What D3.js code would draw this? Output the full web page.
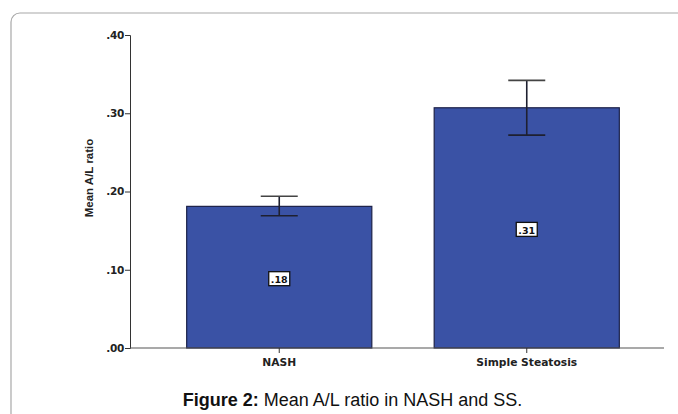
<!DOCTYPE html>
<html>
<head>
<meta charset="utf-8">
<script src="https://cdn.jsdelivr.net/npm/d3@7"></script>
<style>
  body { margin: 0; background: #fff; }
  svg { display: block; }
</style>
</head>
<body>
<svg id="chart" width="678" height="414"></svg>
<script>
const categories = ["NASH", "Simple Steatosis"];
const means = [0.181, 0.307];
const errLow = [0.169, 0.272];
const errHigh = [0.194, 0.342];
const valueLabels = [".18", ".31"];
const yTicks = [0, 0.1, 0.2, 0.3, 0.4];
const yTickLabels = [".00", ".10", ".20", ".30", ".40"];

const svg = d3.select("#chart");
const narrow = "'Liberation Sans Narrow', 'Arial Narrow', 'Liberation Sans', Arial, sans-serif";
const wide = "'DejaVu Sans', Verdana, sans-serif";

// panel frame (runs off right / bottom edge)
svg.append("rect")
  .attr("x", 11).attr("y", 13)
  .attr("width", 720).attr("height", 460)
  .attr("rx", 9)
  .attr("fill", "none")
  .attr("stroke", "#a8a8a8")
  .attr("stroke-width", 1.2);

const x0 = 130, y0 = 348;
const y = d3.scaleLinear().domain([0, 0.4]).range([y0, 35]);
const x = d3.scaleBand()
  .domain(categories)
  .range([x0, 676])
  .paddingInner(0.252)
  .paddingOuter(0.229);

// y axis
const yAxis = d3.axisLeft(y)
  .tickValues(yTicks)
  .tickFormat((d, i) => yTickLabels[i])
  .tickSize(5)
  .tickPadding(1);
const gy = svg.append("g").attr("transform", `translate(${x0},0)`).call(yAxis);
gy.select(".domain").attr("stroke", "#333").attr("stroke-width", 1);
gy.selectAll(".tick line").attr("stroke", "#333");
gy.selectAll(".tick text")
  .attr("fill", "#222")
  .style("font-family", wide)
  .style("font-size", "10.5px")
  .style("font-weight", "bold")
  .style("letter-spacing", "-0.3px");

// y axis title
svg.append("text")
  .attr("transform", "translate(93,178) rotate(-90)")
  .attr("text-anchor", "middle")
  .attr("fill", "#222")
  .style("font-family", narrow)
  .style("font-size", "11.5px")
  .style("font-weight", "bold")
  .text("Mean A/L ratio");

// bars
svg.append("g").selectAll("rect")
  .data(categories)
  .join("rect")
  .attr("x", d => x(d))
  .attr("y", (d, i) => y(means[i]))
  .attr("width", x.bandwidth())
  .attr("height", (d, i) => y0 - y(means[i]))
  .attr("fill", "#3a52a5")
  .attr("stroke", "#1c2148")
  .attr("stroke-width", 1.2);

// x axis line
svg.append("line")
  .attr("x1", x0).attr("x2", 664)
  .attr("y1", y0).attr("y2", y0)
  .attr("stroke", "#555").attr("stroke-width", 1.2);

// category ticks and labels
const gx = svg.append("g").selectAll("g")
  .data(categories)
  .join("g")
  .attr("transform", d => `translate(${x(d) + x.bandwidth() / 2},${y0})`);
gx.append("line").attr("y2", 5).attr("stroke", "#333");
gx.append("text")
  .attr("y", 18)
  .attr("text-anchor", "middle")
  .attr("fill", "#222")
  .style("font-family", wide)
  .style("font-size", "10.7px")
  .style("font-weight", "bold")
  .text(d => d);

// error bars
const capW = 37;
const eb = svg.append("g").selectAll("g")
  .data(categories)
  .join("g")
  .attr("transform", d => `translate(${x(d) + x.bandwidth() / 2},0)`)
  .attr("stroke", "#1e2030")
  .attr("stroke-width", 1.6);
eb.append("line")
  .attr("y1", (d, i) => y(errLow[i]))
  .attr("y2", (d, i) => y(errHigh[i]));
eb.append("line")
  .attr("x1", -capW / 2).attr("x2", capW / 2)
  .attr("y1", (d, i) => y(errHigh[i]))
  .attr("y2", (d, i) => y(errHigh[i]))
  .attr("stroke", "#444");
eb.append("line")
  .attr("x1", -capW / 2).attr("x2", capW / 2)
  .attr("y1", (d, i) => y(errLow[i]))
  .attr("y2", (d, i) => y(errLow[i]));

// value labels
const vl = svg.append("g").selectAll("g")
  .data(categories)
  .join("g")
  .attr("transform", (d, i) =>
    `translate(${x(d) + x.bandwidth() / 2},${(y(means[i]) + y0) / 2 + 2})`);
vl.append("rect")
  .attr("x", -10.5).attr("y", -7.5)
  .attr("width", 21).attr("height", 14)
  .attr("fill", "#fff")
  .attr("stroke", "#111")
  .attr("stroke-width", 1.3);
vl.append("text")
  .attr("y", 4)
  .attr("text-anchor", "middle")
  .attr("fill", "#111")
  .style("font-family", wide)
  .style("font-size", "9.5px")
  .style("font-weight", "bold")
  .text((d, i) => valueLabels[i]);

// caption
const cap = svg.append("text")
  .attr("x", 352.5).attr("y", 406)
  .attr("text-anchor", "middle")
  .attr("fill", "#111")
  .style("font-family", "'Liberation Sans', Arial, sans-serif")
  .style("font-size", "18px");
cap.append("tspan").style("font-weight", "bold").text("Figure 2:");
cap.append("tspan").text(" Mean A/L ratio in NASH and SS.");
</script>
</body>
</html>
